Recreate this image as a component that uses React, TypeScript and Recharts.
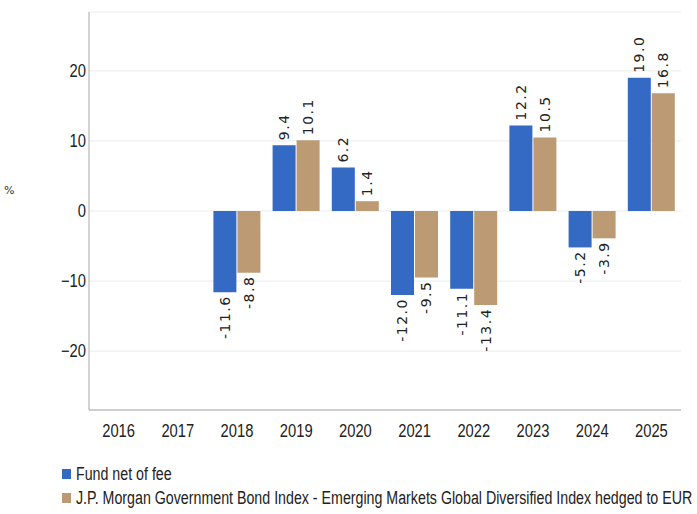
import React from 'react';
import {
  BarChart,
  Bar,
  XAxis,
  YAxis,
  CartesianGrid,
  Legend,
  LabelList,
} from 'recharts';

const years = ['2016', '2017', '2018', '2019', '2020', '2021', '2022', '2023', '2024', '2025'];
const fundNet = [null, null, -11.6, 9.4, 6.2, -12.0, -11.1, 12.2, -5.2, 19.0];
const benchmark = [null, null, -8.8, 10.1, 1.4, -9.5, -13.4, 10.5, -3.9, 16.8];
const yTicks = [-20, -10, 0, 10, 20];

const SERIES = [
  { key: 'fund', name: 'Fund net of fee', color: '#3469C4' },
  {
    key: 'bench',
    name: 'J.P. Morgan Government Bond Index - Emerging Markets Global Diversified Index hedged to EUR',
    color: '#BC9A74',
  },
];

const data = years.map((year, i) => ({
  year,
  fund: fundNet[i],
  bench: benchmark[i],
}));

const FONT = '"Liberation Sans", Arial, sans-serif';
const SQUEEZE = 0.82; // the reference uses a narrow face, squeeze a regular one

// rotated value label: above positive bars, below negative ones
const RotatedLabel = (props: any) => {
  const { x, y, width, height, value } = props;
  if (value === null || value === undefined) return null;
  const top = Math.min(y, y + height);
  const bottom = Math.max(y, y + height);
  const cx = x + width / 2;
  const neg = value < 0;
  const ly = neg ? bottom + 3 : top - 5;
  return (
    <text
      x={cx}
      y={ly}
      transform={`rotate(-90 ${cx} ${ly})`}
      textAnchor={neg ? 'end' : 'start'}
      dominantBaseline="central"
      fontFamily='"DejaVu Sans", sans-serif'
      fontSize={14}
      letterSpacing={1.5}
      fill="#222"
    >
      {value.toFixed(1)}
    </text>
  );
};

const XTick = (props: any) => {
  const { x, y, payload } = props;
  return (
    <g transform={`translate(${x},${y}) scale(${SQUEEZE},1)`}>
      <text x={0} y={0} dy={13} textAnchor="middle" fontFamily={FONT} fontSize={18} fill="#222">
        {payload.value}
      </text>
    </g>
  );
};

const YTick = (props: any) => {
  const { x, y, payload } = props;
  const v = payload.value;
  const txt = v < 0 ? `\u2212${Math.abs(v)}` : `${v}`;
  return (
    <g transform={`translate(${x},${y}) scale(${SQUEEZE},1)`}>
      <text x={0} y={0} dy={6} textAnchor="end" fontFamily={FONT} fontSize={18} fill="#222">
        {txt}
      </text>
    </g>
  );
};

const LegendBox = () => (
  <div style={{ fontFamily: FONT, fontSize: 18, color: '#222', whiteSpace: 'nowrap' }}>
    {SERIES.map((s) => (
      <div key={s.key} style={{ display: 'flex', alignItems: 'center', height: 24 }}>
        <span
          style={{
            display: 'inline-block',
            flexShrink: 0,
            width: 9,
            height: 10,
            background: s.color,
            marginRight: 5,
          }}
        />
        <span
          style={{
            display: 'inline-block',
            flexShrink: 0,
            transform: 'scaleX(0.79)',
            transformOrigin: 'left center',
          }}
        >
          {s.name}
        </span>
      </div>
    ))}
  </div>
);

export default function App() {
  return (
    <div style={{ position: 'absolute', left: 0, top: 0, background: '#fff' }}>
      <BarChart
        width={697}
        height={514}
        data={data}
        margin={{ top: 12, right: 16, left: 0, bottom: 74 }}
        barCategoryGap={6}
        barGap={1}
      >
        <CartesianGrid vertical={false} stroke="#E8ECF0" />
        <XAxis
          dataKey="year"
          tickLine={false}
          tickSize={12}
          stroke="#A8A8A8"
          tick={<XTick />}
          height={30}
        />
        <YAxis
          width={89}
          domain={[-28.4, 28.4]}
          ticks={yTicks}
          tickLine={false}
          tickSize={1}
          stroke="#A8A8A8"
          tick={<YTick />}
          label={{
            value: '%',
            position: 'insideLeft',
            offset: 4,
            dy: -21,
            style: { fill: '#333', fontFamily: '"DejaVu Sans", sans-serif', fontSize: 11 },
          }}
        />
        <Legend
          layout="horizontal"
          verticalAlign="middle"
          align="center"
          wrapperStyle={{ top: 462, left: 62, width: 640, overflow: 'visible' }}
          content={() => <LegendBox />}
        />
        {SERIES.map((s) => (
          <Bar key={s.key} dataKey={s.key} name={s.name} fill={s.color} isAnimationActive={false}>
            <LabelList dataKey={s.key} content={<RotatedLabel />} />
          </Bar>
        ))}
      </BarChart>
    </div>
  );
}
